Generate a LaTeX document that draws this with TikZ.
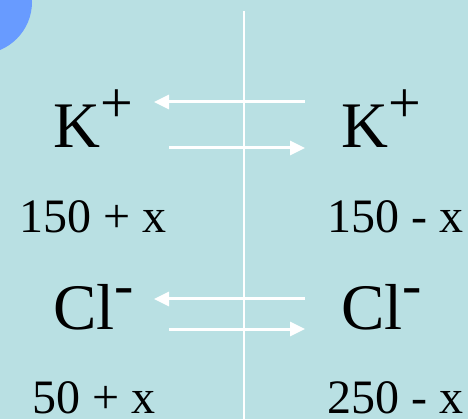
\documentclass[tikz,border=0pt]{standalone}
\usepackage{fontspec}
\setmainfont{Liberation Serif}
\usetikzlibrary{arrows.meta}

\definecolor{bgcyan}{RGB}{185,224,227}
\definecolor{dotblue}{RGB}{104,155,255}

\begin{document}
\begin{tikzpicture}[
    x=1pt, y=-1pt,
    ion/.style={inner sep=0pt, anchor=base west, font=\fontsize{65}{70}\selectfont},
    conc/.style={inner sep=0pt, text depth=0pt, anchor=base west, font=\fontsize{48}{52}\selectfont},
    flux/.style={-{Triangle[length=15pt, width=14pt]}, white, line width=3pt},
    membrane/.style={white, line width=2pt}
]
\useasboundingbox (0,0) rectangle (468,419);
\fill[bgcyan] (0,0) rectangle (468,419);

% corner dot
\begin{scope}
    \clip (0,0) rectangle (468,419);
    \fill[dotblue] (-20,2) circle (52pt);
\end{scope}

% membrane
\coordinate (mtop) at (244,11);
\coordinate (mbot) at (244,419);
\draw[membrane] (mtop) -- (mbot);

% ions
\node[ion] (kleft) at (53,148) {K\raisebox{25pt}{\fontsize{58}{60}\selectfont +}};
\node[ion] (kright) at (341,148) {K\raisebox{25pt}{\fontsize{58}{60}\selectfont +}};
\node[ion] (clleft) at (53,330) {Cl\raisebox{25pt}{\fontsize{58}{60}\selectfont -}};
\node[ion] (clright) at (341,330) {Cl\raisebox{25pt}{\fontsize{58}{60}\selectfont -}};

% concentrations
\node[conc] (kin) at (19,233) {150 + x};
\node[conc] (kout) at (327,233) {150 - x};
\node[conc] (clin) at (32,413) {50 + x};
\node[conc] (clout) at (327,413) {250 - x};

% fluxes
\coordinate (kfluxR) at (305,102);
\coordinate (kfluxL) at (154,102);
\coordinate (keffL) at (169,148);
\coordinate (keffR) at (305,148);
\coordinate (clfluxR) at (305,299);
\coordinate (clfluxL) at (154,299);
\coordinate (cleffL) at (169,329);
\coordinate (cleffR) at (305,329);

\draw[flux] (kfluxR) -- (kfluxL);
\draw[flux] (keffL) -- (keffR);
\draw[flux] (clfluxR) -- (clfluxL);
\draw[flux] (cleffL) -- (cleffR);

\end{tikzpicture}
\end{document}
